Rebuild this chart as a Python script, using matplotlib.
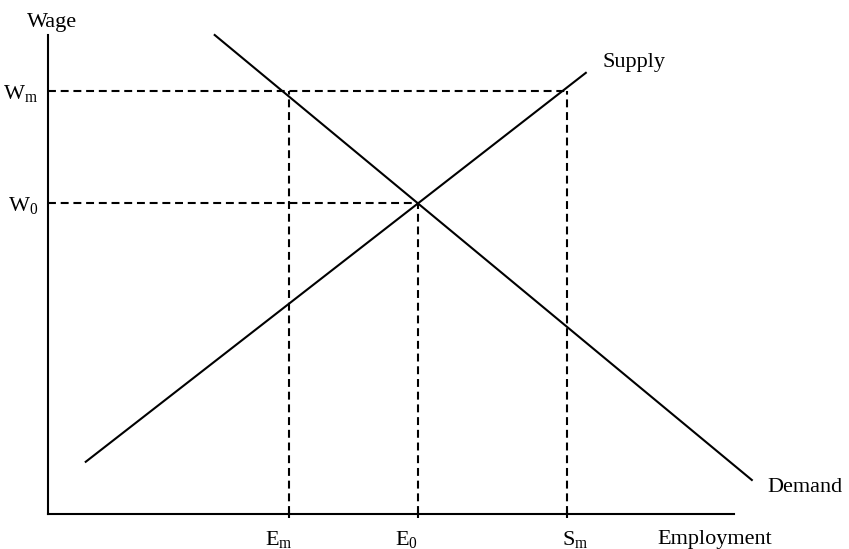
import matplotlib
matplotlib.use('Agg')
import matplotlib.pyplot as plt

plt.rcParams['font.family'] = ['Liberation Serif', 'DejaVu Serif']
plt.rcParams['mathtext.fontset'] = 'custom'
plt.rcParams['mathtext.rm'] = 'Liberation Serif'
plt.rcParams['mathtext.it'] = 'Liberation Serif:italic'

# curve end points (employment, wage)
supply_x = [0.55, 7.84]
supply_y = [1.09, 9.21]
demand_x = [2.43, 10.26]
demand_y = [10.0, 0.71]

# key levels
wage_levels = [8.83, 6.49]            # W_m, W_0
wage_labels = [r'W$_{\mathrm{m}}$', r'W$_{0}$']
emp_levels = [3.51, 5.39, 7.57]       # E_m, E_0, S_m
emp_labels = [r'E$_{\mathrm{m}}$', r'E$_{0}$', r'S$_{\mathrm{m}}$']
emp_label_x = [3.37, 5.23, 7.68]

fig = plt.figure(figsize=(8.49, 5.49), dpi=100)
W, H = 849, 549
ax = fig.add_axes([48 / W, (H - 514) / H, (734 - 48) / W, (514 - 35) / H])
ax.set_xlim(0, 10)
ax.set_ylim(0, 10)

for s in ['top', 'right']:
    ax.spines[s].set_visible(False)
for s in ['left', 'bottom']:
    ax.spines[s].set_linewidth(1.5)

ax.plot(supply_x, supply_y, color='black', lw=1.5, clip_on=False)
ax.plot(demand_x, demand_y, color='black', lw=1.5, clip_on=False)

dash = dict(color='black', lw=1.5, dashes=(3.8, 2.3))
# W_m dashed line runs out to S_m, W_0 to E_0
ax.plot([0, emp_levels[2]], [wage_levels[0]] * 2, **dash)
ax.plot([0, emp_levels[1]], [wage_levels[1]] * 2, **dash)
ax.plot([emp_levels[0]] * 2, [0, wage_levels[0]], **dash)
ax.plot([emp_levels[1]] * 2, [0, wage_levels[1]], **dash)
ax.plot([emp_levels[2]] * 2, [0, wage_levels[0]], **dash)

ax.set_xticks(emp_levels)
ax.set_xticklabels([])
ax.tick_params(axis='x', direction='inout', length=6, width=1.5)
ax.set_yticks(wage_levels)
ax.set_yticklabels(wage_labels, fontsize=16)
ax.tick_params(axis='y', length=0, pad=7)

for lx, lab in zip(emp_label_x, emp_labels):
    ax.text(lx, -0.65, lab, fontsize=16, ha='center', va='baseline')

ax.text(0.06, 10.17, 'Wage', fontsize=16, ha='center', va='baseline')
ax.text(8.88, -0.63, 'Employment', fontsize=16, ha='left', va='baseline')
ax.text(8.08, 9.33, 'Supply', fontsize=16, ha='left', va='baseline')
ax.text(10.48, 0.46, 'Demand', fontsize=16, ha='left', va='baseline')

fig.savefig('out.png', dpi=100)
